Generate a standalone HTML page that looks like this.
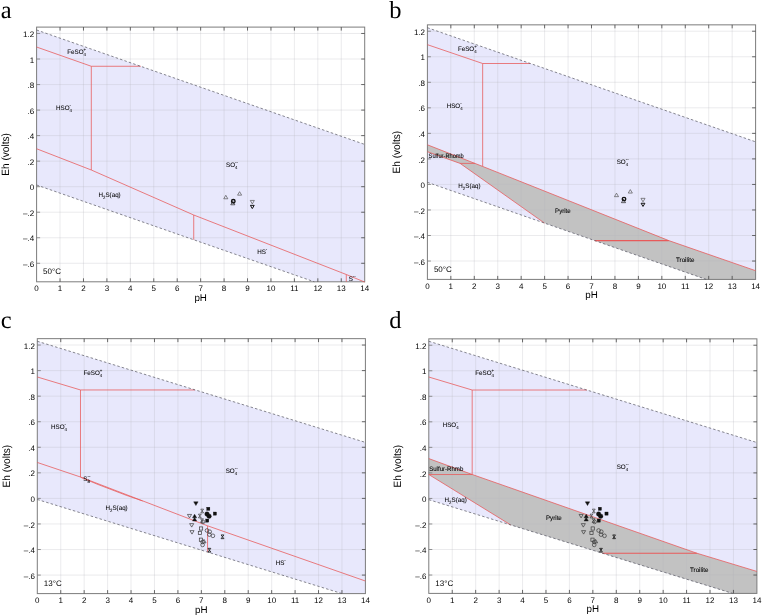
<!DOCTYPE html>
<html lang="en"><head><meta charset="utf-8"><title>Eh-pH diagrams</title>
<style>
html,body{margin:0;padding:0;background:#fff;}
body{width:762px;height:616px;overflow:hidden;}
svg{display:block;filter:blur(0.35px);}
text{text-rendering:geometricPrecision;}
</style></head><body>
<svg width="762" height="616" viewBox="0 0 762 616">
<rect width="762" height="616" fill="#fff"/>
<rect x="36.60" y="27.10" width="328.10" height="254.70" fill="#fff"/>
<polygon points="36.60,30.00 364.70,144.41 364.70,281.80 314.29,281.80 36.60,185.00" fill="#e8e8fc"/>
<line x1="60.04" y1="27.10" x2="60.04" y2="281.80" stroke="#b4b4be" stroke-width="0.65" stroke-opacity="0.42"/>
<line x1="83.47" y1="27.10" x2="83.47" y2="281.80" stroke="#b4b4be" stroke-width="0.65" stroke-opacity="0.42"/>
<line x1="106.91" y1="27.10" x2="106.91" y2="281.80" stroke="#b4b4be" stroke-width="0.65" stroke-opacity="0.42"/>
<line x1="130.34" y1="27.10" x2="130.34" y2="281.80" stroke="#b4b4be" stroke-width="0.65" stroke-opacity="0.42"/>
<line x1="153.78" y1="27.10" x2="153.78" y2="281.80" stroke="#b4b4be" stroke-width="0.65" stroke-opacity="0.42"/>
<line x1="177.21" y1="27.10" x2="177.21" y2="281.80" stroke="#b4b4be" stroke-width="0.65" stroke-opacity="0.42"/>
<line x1="200.65" y1="27.10" x2="200.65" y2="281.80" stroke="#b4b4be" stroke-width="0.65" stroke-opacity="0.42"/>
<line x1="224.09" y1="27.10" x2="224.09" y2="281.80" stroke="#b4b4be" stroke-width="0.65" stroke-opacity="0.42"/>
<line x1="247.52" y1="27.10" x2="247.52" y2="281.80" stroke="#b4b4be" stroke-width="0.65" stroke-opacity="0.42"/>
<line x1="270.96" y1="27.10" x2="270.96" y2="281.80" stroke="#b4b4be" stroke-width="0.65" stroke-opacity="0.42"/>
<line x1="294.39" y1="27.10" x2="294.39" y2="281.80" stroke="#b4b4be" stroke-width="0.65" stroke-opacity="0.42"/>
<line x1="317.83" y1="27.10" x2="317.83" y2="281.80" stroke="#b4b4be" stroke-width="0.65" stroke-opacity="0.42"/>
<line x1="341.26" y1="27.10" x2="341.26" y2="281.80" stroke="#b4b4be" stroke-width="0.65" stroke-opacity="0.42"/>
<line x1="36.60" y1="33.48" x2="364.70" y2="33.48" stroke="#b4b4be" stroke-width="0.65" stroke-opacity="0.42"/>
<line x1="36.60" y1="59.02" x2="364.70" y2="59.02" stroke="#b4b4be" stroke-width="0.65" stroke-opacity="0.42"/>
<line x1="36.60" y1="84.55" x2="364.70" y2="84.55" stroke="#b4b4be" stroke-width="0.65" stroke-opacity="0.42"/>
<line x1="36.60" y1="110.09" x2="364.70" y2="110.09" stroke="#b4b4be" stroke-width="0.65" stroke-opacity="0.42"/>
<line x1="36.60" y1="135.62" x2="364.70" y2="135.62" stroke="#b4b4be" stroke-width="0.65" stroke-opacity="0.42"/>
<line x1="36.60" y1="161.15" x2="364.70" y2="161.15" stroke="#b4b4be" stroke-width="0.65" stroke-opacity="0.42"/>
<line x1="36.60" y1="186.69" x2="364.70" y2="186.69" stroke="#b4b4be" stroke-width="0.65" stroke-opacity="0.42"/>
<line x1="36.60" y1="212.22" x2="364.70" y2="212.22" stroke="#b4b4be" stroke-width="0.65" stroke-opacity="0.42"/>
<line x1="36.60" y1="237.76" x2="364.70" y2="237.76" stroke="#b4b4be" stroke-width="0.65" stroke-opacity="0.42"/>
<line x1="36.60" y1="263.29" x2="364.70" y2="263.29" stroke="#b4b4be" stroke-width="0.65" stroke-opacity="0.42"/>
<rect x="36.60" y="27.10" width="328.10" height="254.70" fill="none" stroke="#7c7c7c" stroke-width="1.0"/>
<line x1="60.04" y1="27.10" x2="60.04" y2="30.60" stroke="#444" stroke-width="0.8"/>
<line x1="60.04" y1="281.80" x2="60.04" y2="278.30" stroke="#444" stroke-width="0.8"/>
<line x1="83.47" y1="27.10" x2="83.47" y2="30.60" stroke="#444" stroke-width="0.8"/>
<line x1="83.47" y1="281.80" x2="83.47" y2="278.30" stroke="#444" stroke-width="0.8"/>
<line x1="106.91" y1="27.10" x2="106.91" y2="30.60" stroke="#444" stroke-width="0.8"/>
<line x1="106.91" y1="281.80" x2="106.91" y2="278.30" stroke="#444" stroke-width="0.8"/>
<line x1="130.34" y1="27.10" x2="130.34" y2="30.60" stroke="#444" stroke-width="0.8"/>
<line x1="130.34" y1="281.80" x2="130.34" y2="278.30" stroke="#444" stroke-width="0.8"/>
<line x1="153.78" y1="27.10" x2="153.78" y2="30.60" stroke="#444" stroke-width="0.8"/>
<line x1="153.78" y1="281.80" x2="153.78" y2="278.30" stroke="#444" stroke-width="0.8"/>
<line x1="177.21" y1="27.10" x2="177.21" y2="30.60" stroke="#444" stroke-width="0.8"/>
<line x1="177.21" y1="281.80" x2="177.21" y2="278.30" stroke="#444" stroke-width="0.8"/>
<line x1="200.65" y1="27.10" x2="200.65" y2="30.60" stroke="#444" stroke-width="0.8"/>
<line x1="200.65" y1="281.80" x2="200.65" y2="278.30" stroke="#444" stroke-width="0.8"/>
<line x1="224.09" y1="27.10" x2="224.09" y2="30.60" stroke="#444" stroke-width="0.8"/>
<line x1="224.09" y1="281.80" x2="224.09" y2="278.30" stroke="#444" stroke-width="0.8"/>
<line x1="247.52" y1="27.10" x2="247.52" y2="30.60" stroke="#444" stroke-width="0.8"/>
<line x1="247.52" y1="281.80" x2="247.52" y2="278.30" stroke="#444" stroke-width="0.8"/>
<line x1="270.96" y1="27.10" x2="270.96" y2="30.60" stroke="#444" stroke-width="0.8"/>
<line x1="270.96" y1="281.80" x2="270.96" y2="278.30" stroke="#444" stroke-width="0.8"/>
<line x1="294.39" y1="27.10" x2="294.39" y2="30.60" stroke="#444" stroke-width="0.8"/>
<line x1="294.39" y1="281.80" x2="294.39" y2="278.30" stroke="#444" stroke-width="0.8"/>
<line x1="317.83" y1="27.10" x2="317.83" y2="30.60" stroke="#444" stroke-width="0.8"/>
<line x1="317.83" y1="281.80" x2="317.83" y2="278.30" stroke="#444" stroke-width="0.8"/>
<line x1="341.26" y1="27.10" x2="341.26" y2="30.60" stroke="#444" stroke-width="0.8"/>
<line x1="341.26" y1="281.80" x2="341.26" y2="278.30" stroke="#444" stroke-width="0.8"/>
<line x1="36.60" y1="33.48" x2="40.10" y2="33.48" stroke="#777" stroke-width="0.8"/>
<line x1="364.70" y1="33.48" x2="361.20" y2="33.48" stroke="#444" stroke-width="0.8"/>
<line x1="36.60" y1="59.02" x2="40.10" y2="59.02" stroke="#777" stroke-width="0.8"/>
<line x1="364.70" y1="59.02" x2="361.20" y2="59.02" stroke="#444" stroke-width="0.8"/>
<line x1="36.60" y1="84.55" x2="40.10" y2="84.55" stroke="#777" stroke-width="0.8"/>
<line x1="364.70" y1="84.55" x2="361.20" y2="84.55" stroke="#444" stroke-width="0.8"/>
<line x1="36.60" y1="110.09" x2="40.10" y2="110.09" stroke="#777" stroke-width="0.8"/>
<line x1="364.70" y1="110.09" x2="361.20" y2="110.09" stroke="#444" stroke-width="0.8"/>
<line x1="36.60" y1="135.62" x2="40.10" y2="135.62" stroke="#777" stroke-width="0.8"/>
<line x1="364.70" y1="135.62" x2="361.20" y2="135.62" stroke="#444" stroke-width="0.8"/>
<line x1="36.60" y1="161.15" x2="40.10" y2="161.15" stroke="#777" stroke-width="0.8"/>
<line x1="364.70" y1="161.15" x2="361.20" y2="161.15" stroke="#444" stroke-width="0.8"/>
<line x1="36.60" y1="186.69" x2="40.10" y2="186.69" stroke="#777" stroke-width="0.8"/>
<line x1="364.70" y1="186.69" x2="361.20" y2="186.69" stroke="#444" stroke-width="0.8"/>
<line x1="36.60" y1="212.22" x2="40.10" y2="212.22" stroke="#777" stroke-width="0.8"/>
<line x1="364.70" y1="212.22" x2="361.20" y2="212.22" stroke="#444" stroke-width="0.8"/>
<line x1="36.60" y1="237.76" x2="40.10" y2="237.76" stroke="#777" stroke-width="0.8"/>
<line x1="364.70" y1="237.76" x2="361.20" y2="237.76" stroke="#444" stroke-width="0.8"/>
<line x1="36.60" y1="263.29" x2="40.10" y2="263.29" stroke="#777" stroke-width="0.8"/>
<line x1="364.70" y1="263.29" x2="361.20" y2="263.29" stroke="#444" stroke-width="0.8"/>
<text x="36.60" y="290.90" font-family='"Liberation Sans", Arial, Helvetica, sans-serif' font-size="8.0" text-anchor="middle" fill="#000" >0</text>
<text x="60.04" y="290.90" font-family='"Liberation Sans", Arial, Helvetica, sans-serif' font-size="8.0" text-anchor="middle" fill="#000" >1</text>
<text x="83.47" y="290.90" font-family='"Liberation Sans", Arial, Helvetica, sans-serif' font-size="8.0" text-anchor="middle" fill="#000" >2</text>
<text x="106.91" y="290.90" font-family='"Liberation Sans", Arial, Helvetica, sans-serif' font-size="8.0" text-anchor="middle" fill="#000" >3</text>
<text x="130.34" y="290.90" font-family='"Liberation Sans", Arial, Helvetica, sans-serif' font-size="8.0" text-anchor="middle" fill="#000" >4</text>
<text x="153.78" y="290.90" font-family='"Liberation Sans", Arial, Helvetica, sans-serif' font-size="8.0" text-anchor="middle" fill="#000" >5</text>
<text x="177.21" y="290.90" font-family='"Liberation Sans", Arial, Helvetica, sans-serif' font-size="8.0" text-anchor="middle" fill="#000" >6</text>
<text x="200.65" y="290.90" font-family='"Liberation Sans", Arial, Helvetica, sans-serif' font-size="8.0" text-anchor="middle" fill="#000" >7</text>
<text x="224.09" y="290.90" font-family='"Liberation Sans", Arial, Helvetica, sans-serif' font-size="8.0" text-anchor="middle" fill="#000" >8</text>
<text x="247.52" y="290.90" font-family='"Liberation Sans", Arial, Helvetica, sans-serif' font-size="8.0" text-anchor="middle" fill="#000" >9</text>
<text x="270.96" y="290.90" font-family='"Liberation Sans", Arial, Helvetica, sans-serif' font-size="8.0" text-anchor="middle" fill="#000" >10</text>
<text x="294.39" y="290.90" font-family='"Liberation Sans", Arial, Helvetica, sans-serif' font-size="8.0" text-anchor="middle" fill="#000" >11</text>
<text x="317.83" y="290.90" font-family='"Liberation Sans", Arial, Helvetica, sans-serif' font-size="8.0" text-anchor="middle" fill="#000" >12</text>
<text x="341.26" y="290.90" font-family='"Liberation Sans", Arial, Helvetica, sans-serif' font-size="8.0" text-anchor="middle" fill="#000" >13</text>
<text x="364.70" y="290.90" font-family='"Liberation Sans", Arial, Helvetica, sans-serif' font-size="8.0" text-anchor="middle" fill="#000" >14</text>
<text x="34.20" y="37.08" font-family='"Liberation Sans", Arial, Helvetica, sans-serif' font-size="8.0" text-anchor="end" fill="#000" >1.2</text>
<text x="34.20" y="62.62" font-family='"Liberation Sans", Arial, Helvetica, sans-serif' font-size="8.0" text-anchor="end" fill="#000" >1</text>
<text x="34.20" y="88.15" font-family='"Liberation Sans", Arial, Helvetica, sans-serif' font-size="8.0" text-anchor="end" fill="#000" >.8</text>
<text x="34.20" y="113.69" font-family='"Liberation Sans", Arial, Helvetica, sans-serif' font-size="8.0" text-anchor="end" fill="#000" >.6</text>
<text x="34.20" y="139.22" font-family='"Liberation Sans", Arial, Helvetica, sans-serif' font-size="8.0" text-anchor="end" fill="#000" >.4</text>
<text x="34.20" y="164.75" font-family='"Liberation Sans", Arial, Helvetica, sans-serif' font-size="8.0" text-anchor="end" fill="#000" >.2</text>
<text x="34.20" y="190.29" font-family='"Liberation Sans", Arial, Helvetica, sans-serif' font-size="8.0" text-anchor="end" fill="#000" >0</text>
<text x="34.20" y="215.82" font-family='"Liberation Sans", Arial, Helvetica, sans-serif' font-size="8.0" text-anchor="end" fill="#000" >–.2</text>
<text x="34.20" y="241.36" font-family='"Liberation Sans", Arial, Helvetica, sans-serif' font-size="8.0" text-anchor="end" fill="#000" >–.4</text>
<text x="34.20" y="266.89" font-family='"Liberation Sans", Arial, Helvetica, sans-serif' font-size="8.0" text-anchor="end" fill="#000" >–.6</text>
<text x="200.65" y="300.80" font-family='"Liberation Sans", Arial, Helvetica, sans-serif' font-size="9.8" text-anchor="middle" fill="#000" >pH</text>
<text transform="translate(8.80,154.45) rotate(-90)" font-family='"Liberation Sans", Arial, Helvetica, sans-serif' font-size="10.6" textLength="42.6" lengthAdjust="spacingAndGlyphs" text-anchor="middle" fill="#000">Eh (volts)</text>
<text x="43.10" y="274.30" font-family='"Liberation Sans", Arial, Helvetica, sans-serif' font-size="8" text-anchor="start" fill="#000" >50°C</text>
<polyline points="36.60,47.02 91.31,66.27 140.72,66.27" fill="none" stroke="#e85a5a" stroke-width="0.78" />
<polyline points="91.31,66.27 91.31,170.00" fill="none" stroke="#e85a5a" stroke-width="0.78" />
<polyline points="36.60,148.76 91.31,170.00 193.72,215.00 346.29,274.50 364.70,282.06" fill="none" stroke="#e85a5a" stroke-width="0.78" />
<polyline points="193.72,215.00 193.72,239.76" fill="none" stroke="#e85a5a" stroke-width="0.78" />
<polyline points="346.29,274.50 346.29,281.80" fill="none" stroke="#e85a5a" stroke-width="0.78" />
<polyline points="36.60,30.00 364.70,144.41" fill="none" stroke="#55555e" stroke-width="0.7" stroke-dasharray="2.5 2.15" />
<polyline points="36.60,185.00 314.29,281.80" fill="none" stroke="#55555e" stroke-width="0.7" stroke-dasharray="2.5 2.15" />
<polygon points="225.80,195.28 223.75,198.77 227.85,198.77" fill="none" stroke="#555" stroke-width="0.7"/>
<polygon points="239.60,191.68 237.55,195.17 241.65,195.17" fill="none" stroke="#555" stroke-width="0.7"/>
<polygon points="232.80,201.28 230.75,204.77 234.85,204.77" fill="none" stroke="#222" stroke-width="0.7"/>
<circle cx="233.30" cy="201.20" r="1.75" fill="none" stroke="#111" stroke-width="1.4"/>
<polygon points="252.30,203.92 250.25,200.43 254.35,200.43" fill="none" stroke="#555" stroke-width="0.7"/>
<polygon points="252.30,208.58 250.40,205.35 254.20,205.35" fill="none" stroke="#111" stroke-width="1.0"/>
<g transform="translate(67.20,54.20) scale(0.96,1)">
<text x="0.00" y="0.00" font-family='"Liberation Sans", Arial, Helvetica, sans-serif' font-size="6.5" text-anchor="start" fill="#000" stroke="#000" stroke-width="0.06">FeSO<tspan dy="1.9" font-size="4.5">4</tspan><tspan dx="-2.50" dy="-5.0" font-size="4.5">+</tspan></text>
</g>
<g transform="translate(56.00,110.40) scale(0.96,1)">
<text x="0.00" y="0.00" font-family='"Liberation Sans", Arial, Helvetica, sans-serif' font-size="6.5" text-anchor="start" fill="#000" stroke="#000" stroke-width="0.06">HSO<tspan dy="1.9" font-size="4.5">4</tspan><tspan dx="-2.50" dy="-5.0" font-size="4.5">-</tspan></text>
</g>
<g transform="translate(98.50,196.90) scale(0.96,1)">
<text x="0.00" y="0.00" font-family='"Liberation Sans", Arial, Helvetica, sans-serif' font-size="6.5" text-anchor="start" fill="#000" stroke="#000" stroke-width="0.06">H<tspan dy="1.9" font-size="4.5">2</tspan><tspan dy="-1.9">S(aq)</tspan></text>
</g>
<g transform="translate(226.00,166.70) scale(0.96,1)">
<text x="0.00" y="0.00" font-family='"Liberation Sans", Arial, Helvetica, sans-serif' font-size="6.5" text-anchor="start" fill="#000" stroke="#000" stroke-width="0.06">SO<tspan dy="1.9" font-size="4.5">4</tspan><tspan dx="-2.50" dy="-5.0" font-size="4.5">--</tspan></text>
</g>
<g transform="translate(257.20,254.20) scale(0.96,1)">
<text x="0.00" y="0.00" font-family='"Liberation Sans", Arial, Helvetica, sans-serif' font-size="6.5" text-anchor="start" fill="#000" stroke="#000" stroke-width="0.06">HS<tspan dy="-3.1" font-size="4.5">-</tspan></text>
</g>
<g transform="translate(348.70,280.60) scale(0.96,1)">
<text x="0.00" y="0.00" font-family='"Liberation Sans", Arial, Helvetica, sans-serif' font-size="6.5" text-anchor="start" fill="#000" stroke="#000" stroke-width="0.06">S<tspan dy="-3.1" font-size="4.5">--</tspan></text>
</g>
<rect x="427.40" y="24.85" width="328.20" height="254.55" fill="#fff"/>
<polygon points="427.40,27.69 755.60,141.84 755.60,279.40 706.16,279.40 427.40,182.33" fill="#e8e8fc"/>
<polygon points="427.40,144.80 482.31,166.30 668.80,240.60 755.60,270.70 755.60,279.40 706.16,279.40 544.47,223.09 460.11,163.40 427.40,151.70" fill="#c2c2c2"/>
<line x1="450.84" y1="24.85" x2="450.84" y2="279.40" stroke="#b4b4be" stroke-width="0.65" stroke-opacity="0.42"/>
<line x1="474.29" y1="24.85" x2="474.29" y2="279.40" stroke="#b4b4be" stroke-width="0.65" stroke-opacity="0.42"/>
<line x1="497.73" y1="24.85" x2="497.73" y2="279.40" stroke="#b4b4be" stroke-width="0.65" stroke-opacity="0.42"/>
<line x1="521.17" y1="24.85" x2="521.17" y2="279.40" stroke="#b4b4be" stroke-width="0.65" stroke-opacity="0.42"/>
<line x1="544.61" y1="24.85" x2="544.61" y2="279.40" stroke="#b4b4be" stroke-width="0.65" stroke-opacity="0.42"/>
<line x1="568.06" y1="24.85" x2="568.06" y2="279.40" stroke="#b4b4be" stroke-width="0.65" stroke-opacity="0.42"/>
<line x1="591.50" y1="24.85" x2="591.50" y2="279.40" stroke="#b4b4be" stroke-width="0.65" stroke-opacity="0.42"/>
<line x1="614.94" y1="24.85" x2="614.94" y2="279.40" stroke="#b4b4be" stroke-width="0.65" stroke-opacity="0.42"/>
<line x1="638.39" y1="24.85" x2="638.39" y2="279.40" stroke="#b4b4be" stroke-width="0.65" stroke-opacity="0.42"/>
<line x1="661.83" y1="24.85" x2="661.83" y2="279.40" stroke="#b4b4be" stroke-width="0.65" stroke-opacity="0.42"/>
<line x1="685.27" y1="24.85" x2="685.27" y2="279.40" stroke="#b4b4be" stroke-width="0.65" stroke-opacity="0.42"/>
<line x1="708.71" y1="24.85" x2="708.71" y2="279.40" stroke="#b4b4be" stroke-width="0.65" stroke-opacity="0.42"/>
<line x1="732.16" y1="24.85" x2="732.16" y2="279.40" stroke="#b4b4be" stroke-width="0.65" stroke-opacity="0.42"/>
<line x1="427.40" y1="31.23" x2="755.60" y2="31.23" stroke="#b4b4be" stroke-width="0.65" stroke-opacity="0.42"/>
<line x1="427.40" y1="56.77" x2="755.60" y2="56.77" stroke="#b4b4be" stroke-width="0.65" stroke-opacity="0.42"/>
<line x1="427.40" y1="82.30" x2="755.60" y2="82.30" stroke="#b4b4be" stroke-width="0.65" stroke-opacity="0.42"/>
<line x1="427.40" y1="107.84" x2="755.60" y2="107.84" stroke="#b4b4be" stroke-width="0.65" stroke-opacity="0.42"/>
<line x1="427.40" y1="133.37" x2="755.60" y2="133.37" stroke="#b4b4be" stroke-width="0.65" stroke-opacity="0.42"/>
<line x1="427.40" y1="158.90" x2="755.60" y2="158.90" stroke="#b4b4be" stroke-width="0.65" stroke-opacity="0.42"/>
<line x1="427.40" y1="184.44" x2="755.60" y2="184.44" stroke="#b4b4be" stroke-width="0.65" stroke-opacity="0.42"/>
<line x1="427.40" y1="209.97" x2="755.60" y2="209.97" stroke="#b4b4be" stroke-width="0.65" stroke-opacity="0.42"/>
<line x1="427.40" y1="235.51" x2="755.60" y2="235.51" stroke="#b4b4be" stroke-width="0.65" stroke-opacity="0.42"/>
<line x1="427.40" y1="261.04" x2="755.60" y2="261.04" stroke="#b4b4be" stroke-width="0.65" stroke-opacity="0.42"/>
<rect x="427.40" y="24.85" width="328.20" height="254.55" fill="none" stroke="#7c7c7c" stroke-width="1.0"/>
<line x1="450.84" y1="24.85" x2="450.84" y2="28.35" stroke="#444" stroke-width="0.8"/>
<line x1="450.84" y1="279.40" x2="450.84" y2="275.90" stroke="#444" stroke-width="0.8"/>
<line x1="474.29" y1="24.85" x2="474.29" y2="28.35" stroke="#444" stroke-width="0.8"/>
<line x1="474.29" y1="279.40" x2="474.29" y2="275.90" stroke="#444" stroke-width="0.8"/>
<line x1="497.73" y1="24.85" x2="497.73" y2="28.35" stroke="#444" stroke-width="0.8"/>
<line x1="497.73" y1="279.40" x2="497.73" y2="275.90" stroke="#444" stroke-width="0.8"/>
<line x1="521.17" y1="24.85" x2="521.17" y2="28.35" stroke="#444" stroke-width="0.8"/>
<line x1="521.17" y1="279.40" x2="521.17" y2="275.90" stroke="#444" stroke-width="0.8"/>
<line x1="544.61" y1="24.85" x2="544.61" y2="28.35" stroke="#444" stroke-width="0.8"/>
<line x1="544.61" y1="279.40" x2="544.61" y2="275.90" stroke="#444" stroke-width="0.8"/>
<line x1="568.06" y1="24.85" x2="568.06" y2="28.35" stroke="#444" stroke-width="0.8"/>
<line x1="568.06" y1="279.40" x2="568.06" y2="275.90" stroke="#444" stroke-width="0.8"/>
<line x1="591.50" y1="24.85" x2="591.50" y2="28.35" stroke="#444" stroke-width="0.8"/>
<line x1="591.50" y1="279.40" x2="591.50" y2="275.90" stroke="#444" stroke-width="0.8"/>
<line x1="614.94" y1="24.85" x2="614.94" y2="28.35" stroke="#444" stroke-width="0.8"/>
<line x1="614.94" y1="279.40" x2="614.94" y2="275.90" stroke="#444" stroke-width="0.8"/>
<line x1="638.39" y1="24.85" x2="638.39" y2="28.35" stroke="#444" stroke-width="0.8"/>
<line x1="638.39" y1="279.40" x2="638.39" y2="275.90" stroke="#444" stroke-width="0.8"/>
<line x1="661.83" y1="24.85" x2="661.83" y2="28.35" stroke="#444" stroke-width="0.8"/>
<line x1="661.83" y1="279.40" x2="661.83" y2="275.90" stroke="#444" stroke-width="0.8"/>
<line x1="685.27" y1="24.85" x2="685.27" y2="28.35" stroke="#444" stroke-width="0.8"/>
<line x1="685.27" y1="279.40" x2="685.27" y2="275.90" stroke="#444" stroke-width="0.8"/>
<line x1="708.71" y1="24.85" x2="708.71" y2="28.35" stroke="#444" stroke-width="0.8"/>
<line x1="708.71" y1="279.40" x2="708.71" y2="275.90" stroke="#444" stroke-width="0.8"/>
<line x1="732.16" y1="24.85" x2="732.16" y2="28.35" stroke="#444" stroke-width="0.8"/>
<line x1="732.16" y1="279.40" x2="732.16" y2="275.90" stroke="#444" stroke-width="0.8"/>
<line x1="427.40" y1="31.23" x2="430.90" y2="31.23" stroke="#777" stroke-width="0.8"/>
<line x1="755.60" y1="31.23" x2="752.10" y2="31.23" stroke="#444" stroke-width="0.8"/>
<line x1="427.40" y1="56.77" x2="430.90" y2="56.77" stroke="#777" stroke-width="0.8"/>
<line x1="755.60" y1="56.77" x2="752.10" y2="56.77" stroke="#444" stroke-width="0.8"/>
<line x1="427.40" y1="82.30" x2="430.90" y2="82.30" stroke="#777" stroke-width="0.8"/>
<line x1="755.60" y1="82.30" x2="752.10" y2="82.30" stroke="#444" stroke-width="0.8"/>
<line x1="427.40" y1="107.84" x2="430.90" y2="107.84" stroke="#777" stroke-width="0.8"/>
<line x1="755.60" y1="107.84" x2="752.10" y2="107.84" stroke="#444" stroke-width="0.8"/>
<line x1="427.40" y1="133.37" x2="430.90" y2="133.37" stroke="#777" stroke-width="0.8"/>
<line x1="755.60" y1="133.37" x2="752.10" y2="133.37" stroke="#444" stroke-width="0.8"/>
<line x1="427.40" y1="158.90" x2="430.90" y2="158.90" stroke="#777" stroke-width="0.8"/>
<line x1="755.60" y1="158.90" x2="752.10" y2="158.90" stroke="#444" stroke-width="0.8"/>
<line x1="427.40" y1="184.44" x2="430.90" y2="184.44" stroke="#777" stroke-width="0.8"/>
<line x1="755.60" y1="184.44" x2="752.10" y2="184.44" stroke="#444" stroke-width="0.8"/>
<line x1="427.40" y1="209.97" x2="430.90" y2="209.97" stroke="#777" stroke-width="0.8"/>
<line x1="755.60" y1="209.97" x2="752.10" y2="209.97" stroke="#444" stroke-width="0.8"/>
<line x1="427.40" y1="235.51" x2="430.90" y2="235.51" stroke="#777" stroke-width="0.8"/>
<line x1="755.60" y1="235.51" x2="752.10" y2="235.51" stroke="#444" stroke-width="0.8"/>
<line x1="427.40" y1="261.04" x2="430.90" y2="261.04" stroke="#777" stroke-width="0.8"/>
<line x1="755.60" y1="261.04" x2="752.10" y2="261.04" stroke="#444" stroke-width="0.8"/>
<text x="427.40" y="288.50" font-family='"Liberation Sans", Arial, Helvetica, sans-serif' font-size="8.0" text-anchor="middle" fill="#000" >0</text>
<text x="450.84" y="288.50" font-family='"Liberation Sans", Arial, Helvetica, sans-serif' font-size="8.0" text-anchor="middle" fill="#000" >1</text>
<text x="474.29" y="288.50" font-family='"Liberation Sans", Arial, Helvetica, sans-serif' font-size="8.0" text-anchor="middle" fill="#000" >2</text>
<text x="497.73" y="288.50" font-family='"Liberation Sans", Arial, Helvetica, sans-serif' font-size="8.0" text-anchor="middle" fill="#000" >3</text>
<text x="521.17" y="288.50" font-family='"Liberation Sans", Arial, Helvetica, sans-serif' font-size="8.0" text-anchor="middle" fill="#000" >4</text>
<text x="544.61" y="288.50" font-family='"Liberation Sans", Arial, Helvetica, sans-serif' font-size="8.0" text-anchor="middle" fill="#000" >5</text>
<text x="568.06" y="288.50" font-family='"Liberation Sans", Arial, Helvetica, sans-serif' font-size="8.0" text-anchor="middle" fill="#000" >6</text>
<text x="591.50" y="288.50" font-family='"Liberation Sans", Arial, Helvetica, sans-serif' font-size="8.0" text-anchor="middle" fill="#000" >7</text>
<text x="614.94" y="288.50" font-family='"Liberation Sans", Arial, Helvetica, sans-serif' font-size="8.0" text-anchor="middle" fill="#000" >8</text>
<text x="638.39" y="288.50" font-family='"Liberation Sans", Arial, Helvetica, sans-serif' font-size="8.0" text-anchor="middle" fill="#000" >9</text>
<text x="661.83" y="288.50" font-family='"Liberation Sans", Arial, Helvetica, sans-serif' font-size="8.0" text-anchor="middle" fill="#000" >10</text>
<text x="685.27" y="288.50" font-family='"Liberation Sans", Arial, Helvetica, sans-serif' font-size="8.0" text-anchor="middle" fill="#000" >11</text>
<text x="708.71" y="288.50" font-family='"Liberation Sans", Arial, Helvetica, sans-serif' font-size="8.0" text-anchor="middle" fill="#000" >12</text>
<text x="732.16" y="288.50" font-family='"Liberation Sans", Arial, Helvetica, sans-serif' font-size="8.0" text-anchor="middle" fill="#000" >13</text>
<text x="755.60" y="288.50" font-family='"Liberation Sans", Arial, Helvetica, sans-serif' font-size="8.0" text-anchor="middle" fill="#000" >14</text>
<text x="425.00" y="34.83" font-family='"Liberation Sans", Arial, Helvetica, sans-serif' font-size="8.0" text-anchor="end" fill="#000" >1.2</text>
<text x="425.00" y="60.37" font-family='"Liberation Sans", Arial, Helvetica, sans-serif' font-size="8.0" text-anchor="end" fill="#000" >1</text>
<text x="425.00" y="85.90" font-family='"Liberation Sans", Arial, Helvetica, sans-serif' font-size="8.0" text-anchor="end" fill="#000" >.8</text>
<text x="425.00" y="111.44" font-family='"Liberation Sans", Arial, Helvetica, sans-serif' font-size="8.0" text-anchor="end" fill="#000" >.6</text>
<text x="425.00" y="136.97" font-family='"Liberation Sans", Arial, Helvetica, sans-serif' font-size="8.0" text-anchor="end" fill="#000" >.4</text>
<text x="425.00" y="162.50" font-family='"Liberation Sans", Arial, Helvetica, sans-serif' font-size="8.0" text-anchor="end" fill="#000" >.2</text>
<text x="425.00" y="188.04" font-family='"Liberation Sans", Arial, Helvetica, sans-serif' font-size="8.0" text-anchor="end" fill="#000" >0</text>
<text x="425.00" y="213.57" font-family='"Liberation Sans", Arial, Helvetica, sans-serif' font-size="8.0" text-anchor="end" fill="#000" >–.2</text>
<text x="425.00" y="239.11" font-family='"Liberation Sans", Arial, Helvetica, sans-serif' font-size="8.0" text-anchor="end" fill="#000" >–.4</text>
<text x="425.00" y="264.64" font-family='"Liberation Sans", Arial, Helvetica, sans-serif' font-size="8.0" text-anchor="end" fill="#000" >–.6</text>
<text x="591.50" y="298.40" font-family='"Liberation Sans", Arial, Helvetica, sans-serif' font-size="9.8" text-anchor="middle" fill="#000" >pH</text>
<text transform="translate(399.60,152.12) rotate(-90)" font-family='"Liberation Sans", Arial, Helvetica, sans-serif' font-size="10.6" textLength="42.6" lengthAdjust="spacingAndGlyphs" text-anchor="middle" fill="#000">Eh (volts)</text>
<text x="433.90" y="271.90" font-family='"Liberation Sans", Arial, Helvetica, sans-serif' font-size="8" text-anchor="start" fill="#000" >50°C</text>
<polyline points="427.40,44.67 482.66,63.50 530.22,63.50" fill="none" stroke="#e85a5a" stroke-width="0.78" />
<polyline points="482.66,63.50 482.66,166.40" fill="none" stroke="#e85a5a" stroke-width="0.78" />
<polyline points="427.40,144.80 482.31,166.30 668.80,240.60 755.60,270.70" fill="none" stroke="#e85a5a" stroke-width="0.78" />
<polyline points="427.40,151.70 460.11,163.40 544.47,223.09" fill="none" stroke="#e85a5a" stroke-width="0.78" />
<polyline points="460.11,163.40 474.91,163.40" fill="none" stroke="#e85a5a" stroke-width="0.78" />
<polyline points="594.73,240.60 668.80,240.60" fill="none" stroke="#e85a5a" stroke-width="1.15" />
<polyline points="427.40,27.69 755.60,141.84" fill="none" stroke="#55555e" stroke-width="0.7" stroke-dasharray="2.5 2.15" />
<polyline points="427.40,182.33 706.16,279.40" fill="none" stroke="#55555e" stroke-width="0.7" stroke-dasharray="2.5 2.15" />
<polygon points="616.50,193.18 614.45,196.67 618.55,196.67" fill="none" stroke="#555" stroke-width="0.7"/>
<polygon points="630.30,189.58 628.25,193.07 632.35,193.07" fill="none" stroke="#555" stroke-width="0.7"/>
<polygon points="623.50,199.18 621.45,202.67 625.55,202.67" fill="none" stroke="#222" stroke-width="0.7"/>
<circle cx="624.00" cy="199.10" r="1.75" fill="none" stroke="#111" stroke-width="1.4"/>
<polygon points="643.00,201.82 640.95,198.33 645.05,198.33" fill="none" stroke="#555" stroke-width="0.7"/>
<polygon points="643.00,206.48 641.10,203.25 644.90,203.25" fill="none" stroke="#111" stroke-width="1.0"/>
<g transform="translate(457.90,51.40) scale(0.96,1)">
<text x="0.00" y="0.00" font-family='"Liberation Sans", Arial, Helvetica, sans-serif' font-size="6.5" text-anchor="start" fill="#000" stroke="#000" stroke-width="0.06">FeSO<tspan dy="1.9" font-size="4.5">4</tspan><tspan dx="-2.50" dy="-5.0" font-size="4.5">+</tspan></text>
</g>
<g transform="translate(446.70,107.60) scale(0.96,1)">
<text x="0.00" y="0.00" font-family='"Liberation Sans", Arial, Helvetica, sans-serif' font-size="6.5" text-anchor="start" fill="#000" stroke="#000" stroke-width="0.06">HSO<tspan dy="1.9" font-size="4.5">4</tspan><tspan dx="-2.50" dy="-5.0" font-size="4.5">-</tspan></text>
</g>
<g transform="translate(616.70,163.90) scale(0.96,1)">
<text x="0.00" y="0.00" font-family='"Liberation Sans", Arial, Helvetica, sans-serif' font-size="6.5" text-anchor="start" fill="#000" stroke="#000" stroke-width="0.06">SO<tspan dy="1.9" font-size="4.5">4</tspan><tspan dx="-2.50" dy="-5.0" font-size="4.5">--</tspan></text>
</g>
<text x="428.60" y="157.90" font-family='"Liberation Sans", Arial, Helvetica, sans-serif' font-size="6.5" text-anchor="start" fill="#000" textLength="35.2" lengthAdjust="spacingAndGlyphs" stroke="#000" stroke-width="0.08">Sulfur-Rhomb</text>
<g transform="translate(458.30,187.60) scale(0.96,1)">
<text x="0.00" y="0.00" font-family='"Liberation Sans", Arial, Helvetica, sans-serif' font-size="6.5" text-anchor="start" fill="#000" stroke="#000" stroke-width="0.06">H<tspan dy="1.9" font-size="4.5">2</tspan><tspan dy="-1.9">S(aq)</tspan></text>
</g>
<text x="555.10" y="212.70" font-family='"Liberation Sans", Arial, Helvetica, sans-serif' font-size="6.4" text-anchor="start" fill="#000" textLength="15.6" lengthAdjust="spacingAndGlyphs" stroke="#000" stroke-width="0.08">Pyrite</text>
<text x="676.00" y="261.60" font-family='"Liberation Sans", Arial, Helvetica, sans-serif' font-size="6.4" text-anchor="start" fill="#000" textLength="18.4" lengthAdjust="spacingAndGlyphs" stroke="#000" stroke-width="0.08">Troilite</text>
<rect x="37.30" y="338.65" width="328.10" height="254.95" fill="#fff"/>
<polygon points="37.30,341.24 365.40,442.39 365.40,593.60 342.03,593.60 37.30,499.48" fill="#e8e8fc"/>
<line x1="60.74" y1="338.65" x2="60.74" y2="593.60" stroke="#b4b4be" stroke-width="0.65" stroke-opacity="0.42"/>
<line x1="84.17" y1="338.65" x2="84.17" y2="593.60" stroke="#b4b4be" stroke-width="0.65" stroke-opacity="0.42"/>
<line x1="107.61" y1="338.65" x2="107.61" y2="593.60" stroke="#b4b4be" stroke-width="0.65" stroke-opacity="0.42"/>
<line x1="131.04" y1="338.65" x2="131.04" y2="593.60" stroke="#b4b4be" stroke-width="0.65" stroke-opacity="0.42"/>
<line x1="154.48" y1="338.65" x2="154.48" y2="593.60" stroke="#b4b4be" stroke-width="0.65" stroke-opacity="0.42"/>
<line x1="177.91" y1="338.65" x2="177.91" y2="593.60" stroke="#b4b4be" stroke-width="0.65" stroke-opacity="0.42"/>
<line x1="201.35" y1="338.65" x2="201.35" y2="593.60" stroke="#b4b4be" stroke-width="0.65" stroke-opacity="0.42"/>
<line x1="224.79" y1="338.65" x2="224.79" y2="593.60" stroke="#b4b4be" stroke-width="0.65" stroke-opacity="0.42"/>
<line x1="248.22" y1="338.65" x2="248.22" y2="593.60" stroke="#b4b4be" stroke-width="0.65" stroke-opacity="0.42"/>
<line x1="271.66" y1="338.65" x2="271.66" y2="593.60" stroke="#b4b4be" stroke-width="0.65" stroke-opacity="0.42"/>
<line x1="295.09" y1="338.65" x2="295.09" y2="593.60" stroke="#b4b4be" stroke-width="0.65" stroke-opacity="0.42"/>
<line x1="318.53" y1="338.65" x2="318.53" y2="593.60" stroke="#b4b4be" stroke-width="0.65" stroke-opacity="0.42"/>
<line x1="341.96" y1="338.65" x2="341.96" y2="593.60" stroke="#b4b4be" stroke-width="0.65" stroke-opacity="0.42"/>
<line x1="37.30" y1="345.04" x2="365.40" y2="345.04" stroke="#b4b4be" stroke-width="0.65" stroke-opacity="0.42"/>
<line x1="37.30" y1="370.60" x2="365.40" y2="370.60" stroke="#b4b4be" stroke-width="0.65" stroke-opacity="0.42"/>
<line x1="37.30" y1="396.16" x2="365.40" y2="396.16" stroke="#b4b4be" stroke-width="0.65" stroke-opacity="0.42"/>
<line x1="37.30" y1="421.72" x2="365.40" y2="421.72" stroke="#b4b4be" stroke-width="0.65" stroke-opacity="0.42"/>
<line x1="37.30" y1="447.28" x2="365.40" y2="447.28" stroke="#b4b4be" stroke-width="0.65" stroke-opacity="0.42"/>
<line x1="37.30" y1="472.84" x2="365.40" y2="472.84" stroke="#b4b4be" stroke-width="0.65" stroke-opacity="0.42"/>
<line x1="37.30" y1="498.40" x2="365.40" y2="498.40" stroke="#b4b4be" stroke-width="0.65" stroke-opacity="0.42"/>
<line x1="37.30" y1="523.96" x2="365.40" y2="523.96" stroke="#b4b4be" stroke-width="0.65" stroke-opacity="0.42"/>
<line x1="37.30" y1="549.52" x2="365.40" y2="549.52" stroke="#b4b4be" stroke-width="0.65" stroke-opacity="0.42"/>
<line x1="37.30" y1="575.08" x2="365.40" y2="575.08" stroke="#b4b4be" stroke-width="0.65" stroke-opacity="0.42"/>
<rect x="37.30" y="338.65" width="328.10" height="254.95" fill="none" stroke="#7c7c7c" stroke-width="1.0"/>
<line x1="60.74" y1="338.65" x2="60.74" y2="342.15" stroke="#444" stroke-width="0.8"/>
<line x1="60.74" y1="593.60" x2="60.74" y2="590.10" stroke="#444" stroke-width="0.8"/>
<line x1="84.17" y1="338.65" x2="84.17" y2="342.15" stroke="#444" stroke-width="0.8"/>
<line x1="84.17" y1="593.60" x2="84.17" y2="590.10" stroke="#444" stroke-width="0.8"/>
<line x1="107.61" y1="338.65" x2="107.61" y2="342.15" stroke="#444" stroke-width="0.8"/>
<line x1="107.61" y1="593.60" x2="107.61" y2="590.10" stroke="#444" stroke-width="0.8"/>
<line x1="131.04" y1="338.65" x2="131.04" y2="342.15" stroke="#444" stroke-width="0.8"/>
<line x1="131.04" y1="593.60" x2="131.04" y2="590.10" stroke="#444" stroke-width="0.8"/>
<line x1="154.48" y1="338.65" x2="154.48" y2="342.15" stroke="#444" stroke-width="0.8"/>
<line x1="154.48" y1="593.60" x2="154.48" y2="590.10" stroke="#444" stroke-width="0.8"/>
<line x1="177.91" y1="338.65" x2="177.91" y2="342.15" stroke="#444" stroke-width="0.8"/>
<line x1="177.91" y1="593.60" x2="177.91" y2="590.10" stroke="#444" stroke-width="0.8"/>
<line x1="201.35" y1="338.65" x2="201.35" y2="342.15" stroke="#444" stroke-width="0.8"/>
<line x1="201.35" y1="593.60" x2="201.35" y2="590.10" stroke="#444" stroke-width="0.8"/>
<line x1="224.79" y1="338.65" x2="224.79" y2="342.15" stroke="#444" stroke-width="0.8"/>
<line x1="224.79" y1="593.60" x2="224.79" y2="590.10" stroke="#444" stroke-width="0.8"/>
<line x1="248.22" y1="338.65" x2="248.22" y2="342.15" stroke="#444" stroke-width="0.8"/>
<line x1="248.22" y1="593.60" x2="248.22" y2="590.10" stroke="#444" stroke-width="0.8"/>
<line x1="271.66" y1="338.65" x2="271.66" y2="342.15" stroke="#444" stroke-width="0.8"/>
<line x1="271.66" y1="593.60" x2="271.66" y2="590.10" stroke="#444" stroke-width="0.8"/>
<line x1="295.09" y1="338.65" x2="295.09" y2="342.15" stroke="#444" stroke-width="0.8"/>
<line x1="295.09" y1="593.60" x2="295.09" y2="590.10" stroke="#444" stroke-width="0.8"/>
<line x1="318.53" y1="338.65" x2="318.53" y2="342.15" stroke="#444" stroke-width="0.8"/>
<line x1="318.53" y1="593.60" x2="318.53" y2="590.10" stroke="#444" stroke-width="0.8"/>
<line x1="341.96" y1="338.65" x2="341.96" y2="342.15" stroke="#444" stroke-width="0.8"/>
<line x1="341.96" y1="593.60" x2="341.96" y2="590.10" stroke="#444" stroke-width="0.8"/>
<line x1="37.30" y1="345.04" x2="40.80" y2="345.04" stroke="#777" stroke-width="0.8"/>
<line x1="365.40" y1="345.04" x2="361.90" y2="345.04" stroke="#444" stroke-width="0.8"/>
<line x1="37.30" y1="370.60" x2="40.80" y2="370.60" stroke="#777" stroke-width="0.8"/>
<line x1="365.40" y1="370.60" x2="361.90" y2="370.60" stroke="#444" stroke-width="0.8"/>
<line x1="37.30" y1="396.16" x2="40.80" y2="396.16" stroke="#777" stroke-width="0.8"/>
<line x1="365.40" y1="396.16" x2="361.90" y2="396.16" stroke="#444" stroke-width="0.8"/>
<line x1="37.30" y1="421.72" x2="40.80" y2="421.72" stroke="#777" stroke-width="0.8"/>
<line x1="365.40" y1="421.72" x2="361.90" y2="421.72" stroke="#444" stroke-width="0.8"/>
<line x1="37.30" y1="447.28" x2="40.80" y2="447.28" stroke="#777" stroke-width="0.8"/>
<line x1="365.40" y1="447.28" x2="361.90" y2="447.28" stroke="#444" stroke-width="0.8"/>
<line x1="37.30" y1="472.84" x2="40.80" y2="472.84" stroke="#777" stroke-width="0.8"/>
<line x1="365.40" y1="472.84" x2="361.90" y2="472.84" stroke="#444" stroke-width="0.8"/>
<line x1="37.30" y1="498.40" x2="40.80" y2="498.40" stroke="#777" stroke-width="0.8"/>
<line x1="365.40" y1="498.40" x2="361.90" y2="498.40" stroke="#444" stroke-width="0.8"/>
<line x1="37.30" y1="523.96" x2="40.80" y2="523.96" stroke="#777" stroke-width="0.8"/>
<line x1="365.40" y1="523.96" x2="361.90" y2="523.96" stroke="#444" stroke-width="0.8"/>
<line x1="37.30" y1="549.52" x2="40.80" y2="549.52" stroke="#777" stroke-width="0.8"/>
<line x1="365.40" y1="549.52" x2="361.90" y2="549.52" stroke="#444" stroke-width="0.8"/>
<line x1="37.30" y1="575.08" x2="40.80" y2="575.08" stroke="#777" stroke-width="0.8"/>
<line x1="365.40" y1="575.08" x2="361.90" y2="575.08" stroke="#444" stroke-width="0.8"/>
<text x="37.30" y="602.70" font-family='"Liberation Sans", Arial, Helvetica, sans-serif' font-size="8.0" text-anchor="middle" fill="#000" >0</text>
<text x="60.74" y="602.70" font-family='"Liberation Sans", Arial, Helvetica, sans-serif' font-size="8.0" text-anchor="middle" fill="#000" >1</text>
<text x="84.17" y="602.70" font-family='"Liberation Sans", Arial, Helvetica, sans-serif' font-size="8.0" text-anchor="middle" fill="#000" >2</text>
<text x="107.61" y="602.70" font-family='"Liberation Sans", Arial, Helvetica, sans-serif' font-size="8.0" text-anchor="middle" fill="#000" >3</text>
<text x="131.04" y="602.70" font-family='"Liberation Sans", Arial, Helvetica, sans-serif' font-size="8.0" text-anchor="middle" fill="#000" >4</text>
<text x="154.48" y="602.70" font-family='"Liberation Sans", Arial, Helvetica, sans-serif' font-size="8.0" text-anchor="middle" fill="#000" >5</text>
<text x="177.91" y="602.70" font-family='"Liberation Sans", Arial, Helvetica, sans-serif' font-size="8.0" text-anchor="middle" fill="#000" >6</text>
<text x="201.35" y="602.70" font-family='"Liberation Sans", Arial, Helvetica, sans-serif' font-size="8.0" text-anchor="middle" fill="#000" >7</text>
<text x="224.79" y="602.70" font-family='"Liberation Sans", Arial, Helvetica, sans-serif' font-size="8.0" text-anchor="middle" fill="#000" >8</text>
<text x="248.22" y="602.70" font-family='"Liberation Sans", Arial, Helvetica, sans-serif' font-size="8.0" text-anchor="middle" fill="#000" >9</text>
<text x="271.66" y="602.70" font-family='"Liberation Sans", Arial, Helvetica, sans-serif' font-size="8.0" text-anchor="middle" fill="#000" >10</text>
<text x="295.09" y="602.70" font-family='"Liberation Sans", Arial, Helvetica, sans-serif' font-size="8.0" text-anchor="middle" fill="#000" >11</text>
<text x="318.53" y="602.70" font-family='"Liberation Sans", Arial, Helvetica, sans-serif' font-size="8.0" text-anchor="middle" fill="#000" >12</text>
<text x="341.96" y="602.70" font-family='"Liberation Sans", Arial, Helvetica, sans-serif' font-size="8.0" text-anchor="middle" fill="#000" >13</text>
<text x="365.40" y="602.70" font-family='"Liberation Sans", Arial, Helvetica, sans-serif' font-size="8.0" text-anchor="middle" fill="#000" >14</text>
<text x="34.90" y="348.64" font-family='"Liberation Sans", Arial, Helvetica, sans-serif' font-size="8.0" text-anchor="end" fill="#000" >1.2</text>
<text x="34.90" y="374.20" font-family='"Liberation Sans", Arial, Helvetica, sans-serif' font-size="8.0" text-anchor="end" fill="#000" >1</text>
<text x="34.90" y="399.76" font-family='"Liberation Sans", Arial, Helvetica, sans-serif' font-size="8.0" text-anchor="end" fill="#000" >.8</text>
<text x="34.90" y="425.32" font-family='"Liberation Sans", Arial, Helvetica, sans-serif' font-size="8.0" text-anchor="end" fill="#000" >.6</text>
<text x="34.90" y="450.88" font-family='"Liberation Sans", Arial, Helvetica, sans-serif' font-size="8.0" text-anchor="end" fill="#000" >.4</text>
<text x="34.90" y="476.44" font-family='"Liberation Sans", Arial, Helvetica, sans-serif' font-size="8.0" text-anchor="end" fill="#000" >.2</text>
<text x="34.90" y="502.00" font-family='"Liberation Sans", Arial, Helvetica, sans-serif' font-size="8.0" text-anchor="end" fill="#000" >0</text>
<text x="34.90" y="527.56" font-family='"Liberation Sans", Arial, Helvetica, sans-serif' font-size="8.0" text-anchor="end" fill="#000" >–.2</text>
<text x="34.90" y="553.12" font-family='"Liberation Sans", Arial, Helvetica, sans-serif' font-size="8.0" text-anchor="end" fill="#000" >–.4</text>
<text x="34.90" y="578.68" font-family='"Liberation Sans", Arial, Helvetica, sans-serif' font-size="8.0" text-anchor="end" fill="#000" >–.6</text>
<text x="201.35" y="612.60" font-family='"Liberation Sans", Arial, Helvetica, sans-serif' font-size="9.8" text-anchor="middle" fill="#000" >pH</text>
<text transform="translate(9.50,466.12) rotate(-90)" font-family='"Liberation Sans", Arial, Helvetica, sans-serif' font-size="10.6" textLength="42.6" lengthAdjust="spacingAndGlyphs" text-anchor="middle" fill="#000">Eh (volts)</text>
<text x="43.80" y="586.10" font-family='"Liberation Sans", Arial, Helvetica, sans-serif' font-size="8" text-anchor="start" fill="#000" >13°C</text>
<polyline points="37.30,376.99 80.49,389.96 194.99,389.96" fill="none" stroke="#e85a5a" stroke-width="0.78" />
<polyline points="80.49,389.96 80.49,477.00" fill="none" stroke="#e85a5a" stroke-width="0.78" />
<polyline points="37.30,462.47 80.49,477.00 207.55,525.80 365.40,581.02" fill="none" stroke="#e85a5a" stroke-width="0.78" />
<polyline points="80.49,477.20 98.04,484.50 126.12,495.24 142.50,500.94" fill="none" stroke="#e85a5a" stroke-width="0.78" />
<polyline points="207.55,525.80 207.55,552.08" fill="none" stroke="#e85a5a" stroke-width="0.78" />
<polyline points="37.30,341.24 365.40,442.39" fill="none" stroke="#55555e" stroke-width="0.7" stroke-dasharray="2.5 2.15" />
<polyline points="37.30,499.48 342.03,593.60" fill="none" stroke="#55555e" stroke-width="0.7" stroke-dasharray="2.5 2.15" />
<polygon points="195.90,505.56 193.70,501.82 198.10,501.82" fill="#111" stroke="#111" stroke-width="0.4"/>
<rect x="206.70" y="507.20" width="3.20" height="3.20" fill="#111" stroke="#111" stroke-width="0.3"/>
<rect x="213.30" y="512.00" width="3.20" height="3.20" fill="#111" stroke="#111" stroke-width="0.3"/>
<rect x="205.60" y="519.00" width="3.20" height="3.20" fill="#111" stroke="#111" stroke-width="0.3"/>
<circle cx="207.00" cy="514.00" r="2.3" fill="#111" stroke="#111" stroke-width="0.3"/>
<circle cx="209.10" cy="516.20" r="2.3" fill="#111" stroke="#111" stroke-width="0.3"/>
<polygon points="194.60,514.24 192.50,517.81 196.70,517.81" fill="#111" stroke="#111" stroke-width="0.4"/>
<polygon points="194.60,517.44 192.50,521.01 196.70,521.01" fill="#111" stroke="#111" stroke-width="0.4"/>
<polygon points="189.50,517.92 187.45,514.43 191.55,514.43" fill="none" stroke="#3a3a3a" stroke-width="0.7"/>
<polygon points="191.70,527.12 189.65,523.63 193.75,523.63" fill="none" stroke="#3a3a3a" stroke-width="0.7"/>
<polygon points="192.00,534.12 189.95,530.63 194.05,530.63" fill="none" stroke="#3a3a3a" stroke-width="0.7"/>
<polygon points="200.80,509.15 203.60,509.15 200.80,512.85 203.60,512.85" fill="none" stroke="#3a3a3a" stroke-width="0.7"/>
<polygon points="198.40,514.15 201.20,514.15 198.40,517.85 201.20,517.85" fill="none" stroke="#3a3a3a" stroke-width="0.7"/>
<polygon points="200.60,518.75 203.40,518.75 200.60,522.45 203.40,522.45" fill="none" stroke="#3a3a3a" stroke-width="0.7"/>
<rect x="199.50" y="526.90" width="3.20" height="3.20" fill="none" stroke="#3a3a3a" stroke-width="0.7"/>
<rect x="198.30" y="531.30" width="3.20" height="3.20" fill="none" stroke="#3a3a3a" stroke-width="0.7"/>
<rect x="199.30" y="538.10" width="3.20" height="3.20" fill="none" stroke="#3a3a3a" stroke-width="0.7"/>
<circle cx="203.00" cy="521.90" r="1.85" fill="none" stroke="#3a3a3a" stroke-width="0.7"/>
<circle cx="207.00" cy="530.50" r="1.85" fill="none" stroke="#3a3a3a" stroke-width="0.7"/>
<circle cx="209.70" cy="531.70" r="1.85" fill="none" stroke="#3a3a3a" stroke-width="0.7"/>
<circle cx="209.40" cy="534.60" r="1.85" fill="none" stroke="#3a3a3a" stroke-width="0.7"/>
<circle cx="212.90" cy="535.80" r="1.85" fill="none" stroke="#3a3a3a" stroke-width="0.7"/>
<circle cx="202.60" cy="542.00" r="1.85" fill="none" stroke="#3a3a3a" stroke-width="0.7"/>
<circle cx="202.60" cy="544.90" r="1.85" fill="none" stroke="#3a3a3a" stroke-width="0.7"/>
<polygon points="204.00,539.38 201.95,542.87 206.05,542.87" fill="none" stroke="#3a3a3a" stroke-width="0.7"/>
<polygon points="221.10,534.95 223.90,534.95 221.10,538.65 223.90,538.65" fill="none" stroke="#222" stroke-width="0.9"/>
<polygon points="208.00,548.35 210.80,548.35 208.00,552.05 210.80,552.05" fill="none" stroke="#222" stroke-width="0.9"/>
<g transform="translate(83.50,375.00) scale(0.96,1)">
<text x="0.00" y="0.00" font-family='"Liberation Sans", Arial, Helvetica, sans-serif' font-size="6.5" text-anchor="start" fill="#000" stroke="#000" stroke-width="0.06">FeSO<tspan dy="1.9" font-size="4.5">4</tspan><tspan dx="-2.50" dy="-5.0" font-size="4.5">+</tspan></text>
</g>
<g transform="translate(51.00,428.70) scale(0.96,1)">
<text x="0.00" y="0.00" font-family='"Liberation Sans", Arial, Helvetica, sans-serif' font-size="6.5" text-anchor="start" fill="#000" stroke="#000" stroke-width="0.06">HSO<tspan dy="1.9" font-size="4.5">4</tspan><tspan dx="-2.50" dy="-5.0" font-size="4.5">-</tspan></text>
</g>
<g transform="translate(105.50,509.90) scale(0.96,1)">
<text x="0.00" y="0.00" font-family='"Liberation Sans", Arial, Helvetica, sans-serif' font-size="6.5" text-anchor="start" fill="#000" stroke="#000" stroke-width="0.06">H<tspan dy="1.9" font-size="4.5">2</tspan><tspan dy="-1.9">S(aq)</tspan></text>
</g>
<g transform="translate(225.70,472.90) scale(0.96,1)">
<text x="0.00" y="0.00" font-family='"Liberation Sans", Arial, Helvetica, sans-serif' font-size="6.5" text-anchor="start" fill="#000" stroke="#000" stroke-width="0.06">SO<tspan dy="1.9" font-size="4.5">4</tspan><tspan dx="-2.50" dy="-5.0" font-size="4.5">--</tspan></text>
</g>
<g transform="translate(275.70,565.40) scale(0.96,1)">
<text x="0.00" y="0.00" font-family='"Liberation Sans", Arial, Helvetica, sans-serif' font-size="6.5" text-anchor="start" fill="#000" stroke="#000" stroke-width="0.06">HS<tspan dy="-3.1" font-size="4.5">-</tspan></text>
</g>
<g transform="translate(83.30,481.20) scale(0.96,1)">
<text x="0.00" y="0.00" font-family='"Liberation Sans", Arial, Helvetica, sans-serif' font-size="6.5" text-anchor="start" fill="#000" stroke="#000" stroke-width="0.06">S<tspan dy="1.9" font-size="4.5">8</tspan><tspan dx="-2.50" dy="-5.0" font-size="4.5">--</tspan></text>
</g>
<rect x="428.80" y="338.85" width="328.10" height="254.55" fill="#fff"/>
<polygon points="428.80,341.25 756.90,442.52 756.90,593.40 732.66,593.40 428.80,499.67" fill="#e8e8fc"/>
<polygon points="428.80,458.60 472.30,474.52 696.83,553.22 756.90,571.43 756.90,593.40 732.66,593.40 510.64,524.92 428.80,474.52" fill="#c2c2c2"/>
<line x1="452.24" y1="338.85" x2="452.24" y2="593.40" stroke="#b4b4be" stroke-width="0.65" stroke-opacity="0.42"/>
<line x1="475.67" y1="338.85" x2="475.67" y2="593.40" stroke="#b4b4be" stroke-width="0.65" stroke-opacity="0.42"/>
<line x1="499.11" y1="338.85" x2="499.11" y2="593.40" stroke="#b4b4be" stroke-width="0.65" stroke-opacity="0.42"/>
<line x1="522.54" y1="338.85" x2="522.54" y2="593.40" stroke="#b4b4be" stroke-width="0.65" stroke-opacity="0.42"/>
<line x1="545.98" y1="338.85" x2="545.98" y2="593.40" stroke="#b4b4be" stroke-width="0.65" stroke-opacity="0.42"/>
<line x1="569.41" y1="338.85" x2="569.41" y2="593.40" stroke="#b4b4be" stroke-width="0.65" stroke-opacity="0.42"/>
<line x1="592.85" y1="338.85" x2="592.85" y2="593.40" stroke="#b4b4be" stroke-width="0.65" stroke-opacity="0.42"/>
<line x1="616.29" y1="338.85" x2="616.29" y2="593.40" stroke="#b4b4be" stroke-width="0.65" stroke-opacity="0.42"/>
<line x1="639.72" y1="338.85" x2="639.72" y2="593.40" stroke="#b4b4be" stroke-width="0.65" stroke-opacity="0.42"/>
<line x1="663.16" y1="338.85" x2="663.16" y2="593.40" stroke="#b4b4be" stroke-width="0.65" stroke-opacity="0.42"/>
<line x1="686.59" y1="338.85" x2="686.59" y2="593.40" stroke="#b4b4be" stroke-width="0.65" stroke-opacity="0.42"/>
<line x1="710.03" y1="338.85" x2="710.03" y2="593.40" stroke="#b4b4be" stroke-width="0.65" stroke-opacity="0.42"/>
<line x1="733.46" y1="338.85" x2="733.46" y2="593.40" stroke="#b4b4be" stroke-width="0.65" stroke-opacity="0.42"/>
<line x1="428.80" y1="345.23" x2="756.90" y2="345.23" stroke="#b4b4be" stroke-width="0.65" stroke-opacity="0.42"/>
<line x1="428.80" y1="370.77" x2="756.90" y2="370.77" stroke="#b4b4be" stroke-width="0.65" stroke-opacity="0.42"/>
<line x1="428.80" y1="396.30" x2="756.90" y2="396.30" stroke="#b4b4be" stroke-width="0.65" stroke-opacity="0.42"/>
<line x1="428.80" y1="421.84" x2="756.90" y2="421.84" stroke="#b4b4be" stroke-width="0.65" stroke-opacity="0.42"/>
<line x1="428.80" y1="447.37" x2="756.90" y2="447.37" stroke="#b4b4be" stroke-width="0.65" stroke-opacity="0.42"/>
<line x1="428.80" y1="472.90" x2="756.90" y2="472.90" stroke="#b4b4be" stroke-width="0.65" stroke-opacity="0.42"/>
<line x1="428.80" y1="498.44" x2="756.90" y2="498.44" stroke="#b4b4be" stroke-width="0.65" stroke-opacity="0.42"/>
<line x1="428.80" y1="523.97" x2="756.90" y2="523.97" stroke="#b4b4be" stroke-width="0.65" stroke-opacity="0.42"/>
<line x1="428.80" y1="549.51" x2="756.90" y2="549.51" stroke="#b4b4be" stroke-width="0.65" stroke-opacity="0.42"/>
<line x1="428.80" y1="575.04" x2="756.90" y2="575.04" stroke="#b4b4be" stroke-width="0.65" stroke-opacity="0.42"/>
<rect x="428.80" y="338.85" width="328.10" height="254.55" fill="none" stroke="#7c7c7c" stroke-width="1.0"/>
<line x1="452.24" y1="338.85" x2="452.24" y2="342.35" stroke="#444" stroke-width="0.8"/>
<line x1="452.24" y1="593.40" x2="452.24" y2="589.90" stroke="#444" stroke-width="0.8"/>
<line x1="475.67" y1="338.85" x2="475.67" y2="342.35" stroke="#444" stroke-width="0.8"/>
<line x1="475.67" y1="593.40" x2="475.67" y2="589.90" stroke="#444" stroke-width="0.8"/>
<line x1="499.11" y1="338.85" x2="499.11" y2="342.35" stroke="#444" stroke-width="0.8"/>
<line x1="499.11" y1="593.40" x2="499.11" y2="589.90" stroke="#444" stroke-width="0.8"/>
<line x1="522.54" y1="338.85" x2="522.54" y2="342.35" stroke="#444" stroke-width="0.8"/>
<line x1="522.54" y1="593.40" x2="522.54" y2="589.90" stroke="#444" stroke-width="0.8"/>
<line x1="545.98" y1="338.85" x2="545.98" y2="342.35" stroke="#444" stroke-width="0.8"/>
<line x1="545.98" y1="593.40" x2="545.98" y2="589.90" stroke="#444" stroke-width="0.8"/>
<line x1="569.41" y1="338.85" x2="569.41" y2="342.35" stroke="#444" stroke-width="0.8"/>
<line x1="569.41" y1="593.40" x2="569.41" y2="589.90" stroke="#444" stroke-width="0.8"/>
<line x1="592.85" y1="338.85" x2="592.85" y2="342.35" stroke="#444" stroke-width="0.8"/>
<line x1="592.85" y1="593.40" x2="592.85" y2="589.90" stroke="#444" stroke-width="0.8"/>
<line x1="616.29" y1="338.85" x2="616.29" y2="342.35" stroke="#444" stroke-width="0.8"/>
<line x1="616.29" y1="593.40" x2="616.29" y2="589.90" stroke="#444" stroke-width="0.8"/>
<line x1="639.72" y1="338.85" x2="639.72" y2="342.35" stroke="#444" stroke-width="0.8"/>
<line x1="639.72" y1="593.40" x2="639.72" y2="589.90" stroke="#444" stroke-width="0.8"/>
<line x1="663.16" y1="338.85" x2="663.16" y2="342.35" stroke="#444" stroke-width="0.8"/>
<line x1="663.16" y1="593.40" x2="663.16" y2="589.90" stroke="#444" stroke-width="0.8"/>
<line x1="686.59" y1="338.85" x2="686.59" y2="342.35" stroke="#444" stroke-width="0.8"/>
<line x1="686.59" y1="593.40" x2="686.59" y2="589.90" stroke="#444" stroke-width="0.8"/>
<line x1="710.03" y1="338.85" x2="710.03" y2="342.35" stroke="#444" stroke-width="0.8"/>
<line x1="710.03" y1="593.40" x2="710.03" y2="589.90" stroke="#444" stroke-width="0.8"/>
<line x1="733.46" y1="338.85" x2="733.46" y2="342.35" stroke="#444" stroke-width="0.8"/>
<line x1="733.46" y1="593.40" x2="733.46" y2="589.90" stroke="#444" stroke-width="0.8"/>
<line x1="428.80" y1="345.23" x2="432.30" y2="345.23" stroke="#777" stroke-width="0.8"/>
<line x1="756.90" y1="345.23" x2="753.40" y2="345.23" stroke="#444" stroke-width="0.8"/>
<line x1="428.80" y1="370.77" x2="432.30" y2="370.77" stroke="#777" stroke-width="0.8"/>
<line x1="756.90" y1="370.77" x2="753.40" y2="370.77" stroke="#444" stroke-width="0.8"/>
<line x1="428.80" y1="396.30" x2="432.30" y2="396.30" stroke="#777" stroke-width="0.8"/>
<line x1="756.90" y1="396.30" x2="753.40" y2="396.30" stroke="#444" stroke-width="0.8"/>
<line x1="428.80" y1="421.84" x2="432.30" y2="421.84" stroke="#777" stroke-width="0.8"/>
<line x1="756.90" y1="421.84" x2="753.40" y2="421.84" stroke="#444" stroke-width="0.8"/>
<line x1="428.80" y1="447.37" x2="432.30" y2="447.37" stroke="#777" stroke-width="0.8"/>
<line x1="756.90" y1="447.37" x2="753.40" y2="447.37" stroke="#444" stroke-width="0.8"/>
<line x1="428.80" y1="472.90" x2="432.30" y2="472.90" stroke="#777" stroke-width="0.8"/>
<line x1="756.90" y1="472.90" x2="753.40" y2="472.90" stroke="#444" stroke-width="0.8"/>
<line x1="428.80" y1="498.44" x2="432.30" y2="498.44" stroke="#777" stroke-width="0.8"/>
<line x1="756.90" y1="498.44" x2="753.40" y2="498.44" stroke="#444" stroke-width="0.8"/>
<line x1="428.80" y1="523.97" x2="432.30" y2="523.97" stroke="#777" stroke-width="0.8"/>
<line x1="756.90" y1="523.97" x2="753.40" y2="523.97" stroke="#444" stroke-width="0.8"/>
<line x1="428.80" y1="549.51" x2="432.30" y2="549.51" stroke="#777" stroke-width="0.8"/>
<line x1="756.90" y1="549.51" x2="753.40" y2="549.51" stroke="#444" stroke-width="0.8"/>
<line x1="428.80" y1="575.04" x2="432.30" y2="575.04" stroke="#777" stroke-width="0.8"/>
<line x1="756.90" y1="575.04" x2="753.40" y2="575.04" stroke="#444" stroke-width="0.8"/>
<text x="428.80" y="602.50" font-family='"Liberation Sans", Arial, Helvetica, sans-serif' font-size="8.0" text-anchor="middle" fill="#000" >0</text>
<text x="452.24" y="602.50" font-family='"Liberation Sans", Arial, Helvetica, sans-serif' font-size="8.0" text-anchor="middle" fill="#000" >1</text>
<text x="475.67" y="602.50" font-family='"Liberation Sans", Arial, Helvetica, sans-serif' font-size="8.0" text-anchor="middle" fill="#000" >2</text>
<text x="499.11" y="602.50" font-family='"Liberation Sans", Arial, Helvetica, sans-serif' font-size="8.0" text-anchor="middle" fill="#000" >3</text>
<text x="522.54" y="602.50" font-family='"Liberation Sans", Arial, Helvetica, sans-serif' font-size="8.0" text-anchor="middle" fill="#000" >4</text>
<text x="545.98" y="602.50" font-family='"Liberation Sans", Arial, Helvetica, sans-serif' font-size="8.0" text-anchor="middle" fill="#000" >5</text>
<text x="569.41" y="602.50" font-family='"Liberation Sans", Arial, Helvetica, sans-serif' font-size="8.0" text-anchor="middle" fill="#000" >6</text>
<text x="592.85" y="602.50" font-family='"Liberation Sans", Arial, Helvetica, sans-serif' font-size="8.0" text-anchor="middle" fill="#000" >7</text>
<text x="616.29" y="602.50" font-family='"Liberation Sans", Arial, Helvetica, sans-serif' font-size="8.0" text-anchor="middle" fill="#000" >8</text>
<text x="639.72" y="602.50" font-family='"Liberation Sans", Arial, Helvetica, sans-serif' font-size="8.0" text-anchor="middle" fill="#000" >9</text>
<text x="663.16" y="602.50" font-family='"Liberation Sans", Arial, Helvetica, sans-serif' font-size="8.0" text-anchor="middle" fill="#000" >10</text>
<text x="686.59" y="602.50" font-family='"Liberation Sans", Arial, Helvetica, sans-serif' font-size="8.0" text-anchor="middle" fill="#000" >11</text>
<text x="710.03" y="602.50" font-family='"Liberation Sans", Arial, Helvetica, sans-serif' font-size="8.0" text-anchor="middle" fill="#000" >12</text>
<text x="733.46" y="602.50" font-family='"Liberation Sans", Arial, Helvetica, sans-serif' font-size="8.0" text-anchor="middle" fill="#000" >13</text>
<text x="756.90" y="602.50" font-family='"Liberation Sans", Arial, Helvetica, sans-serif' font-size="8.0" text-anchor="middle" fill="#000" >14</text>
<text x="426.40" y="348.83" font-family='"Liberation Sans", Arial, Helvetica, sans-serif' font-size="8.0" text-anchor="end" fill="#000" >1.2</text>
<text x="426.40" y="374.37" font-family='"Liberation Sans", Arial, Helvetica, sans-serif' font-size="8.0" text-anchor="end" fill="#000" >1</text>
<text x="426.40" y="399.90" font-family='"Liberation Sans", Arial, Helvetica, sans-serif' font-size="8.0" text-anchor="end" fill="#000" >.8</text>
<text x="426.40" y="425.44" font-family='"Liberation Sans", Arial, Helvetica, sans-serif' font-size="8.0" text-anchor="end" fill="#000" >.6</text>
<text x="426.40" y="450.97" font-family='"Liberation Sans", Arial, Helvetica, sans-serif' font-size="8.0" text-anchor="end" fill="#000" >.4</text>
<text x="426.40" y="476.50" font-family='"Liberation Sans", Arial, Helvetica, sans-serif' font-size="8.0" text-anchor="end" fill="#000" >.2</text>
<text x="426.40" y="502.04" font-family='"Liberation Sans", Arial, Helvetica, sans-serif' font-size="8.0" text-anchor="end" fill="#000" >0</text>
<text x="426.40" y="527.57" font-family='"Liberation Sans", Arial, Helvetica, sans-serif' font-size="8.0" text-anchor="end" fill="#000" >–.2</text>
<text x="426.40" y="553.11" font-family='"Liberation Sans", Arial, Helvetica, sans-serif' font-size="8.0" text-anchor="end" fill="#000" >–.4</text>
<text x="426.40" y="578.64" font-family='"Liberation Sans", Arial, Helvetica, sans-serif' font-size="8.0" text-anchor="end" fill="#000" >–.6</text>
<text x="592.85" y="612.40" font-family='"Liberation Sans", Arial, Helvetica, sans-serif' font-size="9.8" text-anchor="middle" fill="#000" >pH</text>
<text transform="translate(401.00,466.12) rotate(-90)" font-family='"Liberation Sans", Arial, Helvetica, sans-serif' font-size="10.6" textLength="42.6" lengthAdjust="spacingAndGlyphs" text-anchor="middle" fill="#000">Eh (volts)</text>
<text x="435.30" y="585.90" font-family='"Liberation Sans", Arial, Helvetica, sans-serif' font-size="8" text-anchor="start" fill="#000" >13°C</text>
<polyline points="428.80,377.03 472.18,390.02 586.92,390.02" fill="none" stroke="#e85a5a" stroke-width="0.78" />
<polyline points="472.18,390.02 472.18,474.52" fill="none" stroke="#e85a5a" stroke-width="0.78" />
<polyline points="428.80,458.60 472.30,474.52 696.83,553.22 756.90,571.43" fill="none" stroke="#e85a5a" stroke-width="0.78" />
<polyline points="428.80,474.52 472.30,474.52" fill="none" stroke="#e85a5a" stroke-width="0.78" />
<polyline points="428.80,474.52 510.64,524.92" fill="none" stroke="#e85a5a" stroke-width="0.78" />
<polyline points="602.40,553.22 696.83,553.22" fill="none" stroke="#e85a5a" stroke-width="1.15" />
<polyline points="428.80,341.25 756.90,442.52" fill="none" stroke="#55555e" stroke-width="0.7" stroke-dasharray="2.5 2.15" />
<polyline points="428.80,499.67 732.66,593.40" fill="none" stroke="#55555e" stroke-width="0.7" stroke-dasharray="2.5 2.15" />
<polygon points="587.50,505.56 585.30,501.82 589.70,501.82" fill="#111" stroke="#111" stroke-width="0.4"/>
<rect x="598.30" y="507.20" width="3.20" height="3.20" fill="#111" stroke="#111" stroke-width="0.3"/>
<rect x="604.90" y="512.00" width="3.20" height="3.20" fill="#111" stroke="#111" stroke-width="0.3"/>
<rect x="597.20" y="519.00" width="3.20" height="3.20" fill="#111" stroke="#111" stroke-width="0.3"/>
<circle cx="598.60" cy="514.00" r="2.3" fill="#111" stroke="#111" stroke-width="0.3"/>
<circle cx="600.70" cy="516.20" r="2.3" fill="#111" stroke="#111" stroke-width="0.3"/>
<polygon points="586.20,514.24 584.10,517.81 588.30,517.81" fill="#111" stroke="#111" stroke-width="0.4"/>
<polygon points="586.20,517.44 584.10,521.01 588.30,521.01" fill="#111" stroke="#111" stroke-width="0.4"/>
<polygon points="581.10,517.92 579.05,514.43 583.15,514.43" fill="none" stroke="#3a3a3a" stroke-width="0.7"/>
<polygon points="583.30,527.12 581.25,523.63 585.35,523.63" fill="none" stroke="#3a3a3a" stroke-width="0.7"/>
<polygon points="583.60,534.12 581.55,530.63 585.65,530.63" fill="none" stroke="#3a3a3a" stroke-width="0.7"/>
<polygon points="592.40,509.15 595.20,509.15 592.40,512.85 595.20,512.85" fill="none" stroke="#3a3a3a" stroke-width="0.7"/>
<polygon points="590.00,514.15 592.80,514.15 590.00,517.85 592.80,517.85" fill="none" stroke="#3a3a3a" stroke-width="0.7"/>
<polygon points="592.20,518.75 595.00,518.75 592.20,522.45 595.00,522.45" fill="none" stroke="#3a3a3a" stroke-width="0.7"/>
<rect x="591.10" y="526.90" width="3.20" height="3.20" fill="none" stroke="#3a3a3a" stroke-width="0.7"/>
<rect x="589.90" y="531.30" width="3.20" height="3.20" fill="none" stroke="#3a3a3a" stroke-width="0.7"/>
<rect x="590.90" y="538.10" width="3.20" height="3.20" fill="none" stroke="#3a3a3a" stroke-width="0.7"/>
<circle cx="594.60" cy="521.90" r="1.85" fill="none" stroke="#3a3a3a" stroke-width="0.7"/>
<circle cx="598.60" cy="530.50" r="1.85" fill="none" stroke="#3a3a3a" stroke-width="0.7"/>
<circle cx="601.30" cy="531.70" r="1.85" fill="none" stroke="#3a3a3a" stroke-width="0.7"/>
<circle cx="601.00" cy="534.60" r="1.85" fill="none" stroke="#3a3a3a" stroke-width="0.7"/>
<circle cx="604.50" cy="535.80" r="1.85" fill="none" stroke="#3a3a3a" stroke-width="0.7"/>
<circle cx="594.20" cy="542.00" r="1.85" fill="none" stroke="#3a3a3a" stroke-width="0.7"/>
<circle cx="594.20" cy="544.90" r="1.85" fill="none" stroke="#3a3a3a" stroke-width="0.7"/>
<polygon points="595.60,539.38 593.55,542.87 597.65,542.87" fill="none" stroke="#3a3a3a" stroke-width="0.7"/>
<polygon points="612.70,534.95 615.50,534.95 612.70,538.65 615.50,538.65" fill="none" stroke="#222" stroke-width="0.9"/>
<polygon points="599.60,548.35 602.40,548.35 599.60,552.05 602.40,552.05" fill="none" stroke="#222" stroke-width="0.9"/>
<g transform="translate(475.20,375.00) scale(0.96,1)">
<text x="0.00" y="0.00" font-family='"Liberation Sans", Arial, Helvetica, sans-serif' font-size="6.5" text-anchor="start" fill="#000" stroke="#000" stroke-width="0.06">FeSO<tspan dy="1.9" font-size="4.5">4</tspan><tspan dx="-2.50" dy="-5.0" font-size="4.5">+</tspan></text>
</g>
<g transform="translate(442.70,427.40) scale(0.96,1)">
<text x="0.00" y="0.00" font-family='"Liberation Sans", Arial, Helvetica, sans-serif' font-size="6.5" text-anchor="start" fill="#000" stroke="#000" stroke-width="0.06">HSO<tspan dy="1.9" font-size="4.5">4</tspan><tspan dx="-2.50" dy="-5.0" font-size="4.5">-</tspan></text>
</g>
<g transform="translate(616.70,469.40) scale(0.96,1)">
<text x="0.00" y="0.00" font-family='"Liberation Sans", Arial, Helvetica, sans-serif' font-size="6.5" text-anchor="start" fill="#000" stroke="#000" stroke-width="0.06">SO<tspan dy="1.9" font-size="4.5">4</tspan><tspan dx="-2.50" dy="-5.0" font-size="4.5">--</tspan></text>
</g>
<text x="429.20" y="470.80" font-family='"Liberation Sans", Arial, Helvetica, sans-serif' font-size="6.5" text-anchor="start" fill="#000" textLength="34.1" lengthAdjust="spacingAndGlyphs" stroke="#000" stroke-width="0.08">Sulfur-Rhmb</text>
<g transform="translate(444.60,502.10) scale(0.96,1)">
<text x="0.00" y="0.00" font-family='"Liberation Sans", Arial, Helvetica, sans-serif' font-size="6.5" text-anchor="start" fill="#000" stroke="#000" stroke-width="0.06">H<tspan dy="1.9" font-size="4.5">2</tspan><tspan dy="-1.9">S(aq)</tspan></text>
</g>
<text x="546.00" y="520.00" font-family='"Liberation Sans", Arial, Helvetica, sans-serif' font-size="6.4" text-anchor="start" fill="#000" textLength="15.8" lengthAdjust="spacingAndGlyphs" stroke="#000" stroke-width="0.08">Pyrite</text>
<text x="690.00" y="571.90" font-family='"Liberation Sans", Arial, Helvetica, sans-serif' font-size="6.4" text-anchor="start" fill="#000" textLength="18.4" lengthAdjust="spacingAndGlyphs" stroke="#000" stroke-width="0.08">Troilite</text>
<text x="0.80" y="18.20" font-family='"Liberation Serif", "Times New Roman", serif' font-size="24.5" text-anchor="start" fill="#000" >a</text>
<text x="389.30" y="17.80" font-family='"Liberation Serif", "Times New Roman", serif' font-size="24.5" text-anchor="start" fill="#000" >b</text>
<text x="0.80" y="328.30" font-family='"Liberation Serif", "Times New Roman", serif' font-size="24.5" text-anchor="start" fill="#000" >c</text>
<text x="389.30" y="328.30" font-family='"Liberation Serif", "Times New Roman", serif' font-size="24.5" text-anchor="start" fill="#000" >d</text>
</svg>
</body></html>
